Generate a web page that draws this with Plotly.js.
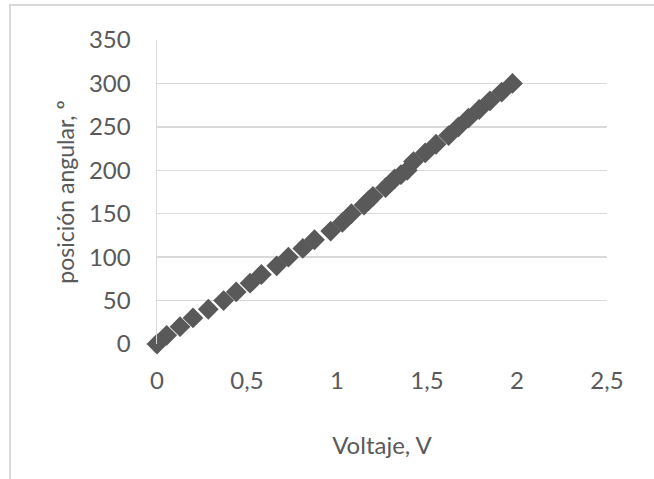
<!DOCTYPE html>
<html>
<head>
<meta charset="utf-8">
<script src="https://cdn.plot.ly/plotly-3.0.1.min.js"></script>
<style>
html,body{margin:0;padding:0;background:#fff;overflow:hidden;}
#frame{position:absolute;left:9px;top:4px;width:700px;height:520px;border:2px solid #d9d9d9;box-sizing:border-box;pointer-events:none;z-index:5;}
#chart{position:absolute;left:0;top:0;width:654px;height:479px;}
</style>
</head>
<body>
<div id="chart"></div>
<div id="frame"></div>
<script>
// Voltage (V) and angular position (degrees)
var voltaje = [0, 0.054, 0.128, 0.2, 0.285, 0.37, 0.44, 0.517, 0.58, 0.665, 0.73, 0.81, 0.875, 0.965, 1.03, 1.08, 1.15, 1.175, 1.2, 1.27, 1.32, 1.355, 1.39, 1.425, 1.49, 1.55, 1.62, 1.675, 1.73, 1.79, 1.85, 1.915, 1.975];
var posicion = [0, 10, 20, 30, 40, 50, 60, 70, 80, 90, 100, 110, 120, 130, 140, 150, 160, 165, 170, 180, 190, 195, 200, 210, 220, 230, 240, 250, 260, 270, 280, 290, 300];
var xTickVals = [0, 0.5, 1, 1.5, 2, 2.5];
var xTickText = ['0', '0,5', '1', '1,5', '2', '2,5'];
var yTickVals = [0, 50, 100, 150, 200, 250, 300, 350];

var font = {family: 'Lato, "Open Sans", sans-serif', size: 24, color: '#595959'};
var yTitleFont = {family: 'Lato, "Open Sans", sans-serif', size: 23, color: '#595959'};

Plotly.newPlot('chart', [{
  x: voltaje, y: posicion, type: 'scatter', mode: 'markers',
  marker: {symbol: 'diamond', size: 16, color: '#595959'},
  cliponaxis: false, hoverinfo: 'none'
}], {
  width: 654, height: 479,
  margin: {l: 157, r: 47, t: 39.5, b: 134.5, autoexpand: false},
  paper_bgcolor: '#fff', plot_bgcolor: '#fff',
  showlegend: false,
  font: font,
  xaxis: {
    range: [0, 2.5], tickvals: xTickVals, ticktext: xTickText,
    showgrid: false, zeroline: false, showline: false,
    ticks: '', ticklen: 0, tickfont: font, ticklabelstandoff: 20,
    title: {text: 'Voltaje, V', font: font, standoff: 44}
  },
  yaxis: {
    range: [0, 350], tickvals: yTickVals, automargin: true,
    showgrid: true, gridcolor: '#d9d9d9', gridwidth: 1.5,
    zeroline: false, showline: true, linecolor: '#d9d9d9', linewidth: 1.5,
    ticks: '', tickfont: font, ticklabelstandoff: 20,
    title: {text: 'posición angular, º', font: yTitleFont, standoff: 8}
  }
}, {staticPlot: true, displayModeBar: false});
</script>
</body>
</html>
